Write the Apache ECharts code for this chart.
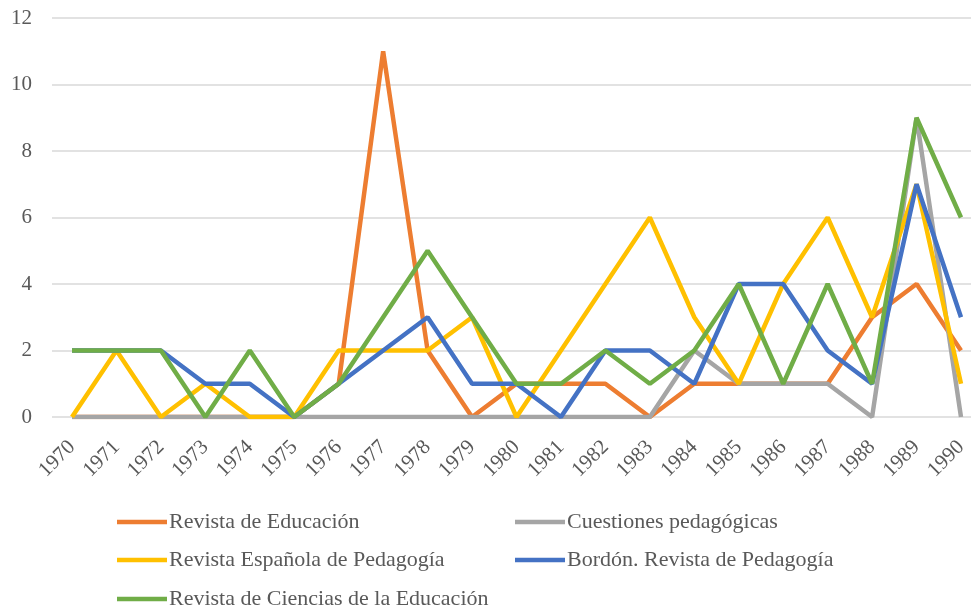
<!DOCTYPE html>
<html><head><meta charset="utf-8">
<script src="https://cdn.jsdelivr.net/npm/echarts@6/dist/echarts.min.js"></script>
<style>html,body{margin:0;padding:0;background:#fff}#c{width:971px;height:608px}</style>
</head><body><div id="c"></div>
<script>
const years = ['1970','1971','1972','1973','1974','1975','1976','1977','1978','1979','1980','1981','1982','1983','1984','1985','1986','1987','1988','1989','1990'];
const seriesNames = ['Revista de Educación','Cuestiones pedagógicas','Revista Española de Pedagogía','Bordón. Revista de Pedagogía','Revista de Ciencias de la Educación'];
const revistaEducacion = [0,0,0,0,0,0,1,11,2,0,1,1,1,0,1,1,1,1,3,4,2];
const cuestiones       = [0,0,0,0,0,0,0,0,0,0,0,0,0,0,2,1,1,1,0,9,0];
const revistaEspanola  = [0,2,0,1,0,0,2,2,2,3,0,2,4,6,3,1,4,6,3,7,1];
const bordon           = [2,2,2,1,1,0,1,2,3,1,1,0,2,2,1,4,4,2,1,7,3];
const ciencias         = [2,2,2,0,2,0,1,3,5,3,1,1,2,1,2,4,1,4,1,9,6];
const yTicks = [0,2,4,6,8,10,12];

const colors = ['#ED7D31','#A5A5A5','#FFC000','#4472C4','#70AD47'];
const dataSets = [revistaEducacion,cuestiones,revistaEspanola,bordon,ciencias];
const legendPos = [[112,506],[510,506],[112,544],[510,544],[112,583]];
const font = '"Liberation Serif","Times New Roman",serif';
const yMin = yTicks[0], yMax = yTicks[yTicks.length-1];

const chart = echarts.init(document.getElementById('c'));
chart.setOption({
  animation:false,
  color:colors,
  grid:[
    {left:52,right:0,top:18,bottom:191,containLabel:false},
    {left:72,right:10,top:18,bottom:191,containLabel:false}
  ],
  xAxis:[
    {gridIndex:0,type:'value',min:0,max:1,show:false},
    {gridIndex:1,type:'category',data:years,boundaryGap:false,
      axisLine:{show:false},axisTick:{show:false},
      axisLabel:{rotate:45,margin:27,color:'#595959',fontSize:21,fontFamily:font}}
  ],
  yAxis:[
    {gridIndex:0,type:'value',min:yMin,max:yMax,interval:2,
      axisLine:{show:false},axisTick:{show:false},
      splitLine:{lineStyle:{color:'#D9D9D9',width:1.5}},
      axisLabel:{margin:20,color:'#595959',fontSize:21,fontFamily:font}},
    {gridIndex:1,type:'value',min:yMin,max:yMax,interval:2,show:false,splitLine:{show:false}}
  ],
  legend: seriesNames.map((n,i)=>({data:[n],left:legendPos[i][0],top:legendPos[i][1],
    icon:'rect',itemWidth:50,itemHeight:4.5,itemGap:0,
    textStyle:{color:'#595959',fontSize:22,fontFamily:font,padding:[0,0,0,-3]}})),
  series: seriesNames.map((n,i)=>({name:n,type:'line',xAxisIndex:1,yAxisIndex:1,data:dataSets[i],
    showSymbol:false,symbol:'none',lineStyle:{width:4.5,color:colors[i]},itemStyle:{color:colors[i]}}))
});
</script></body></html>
